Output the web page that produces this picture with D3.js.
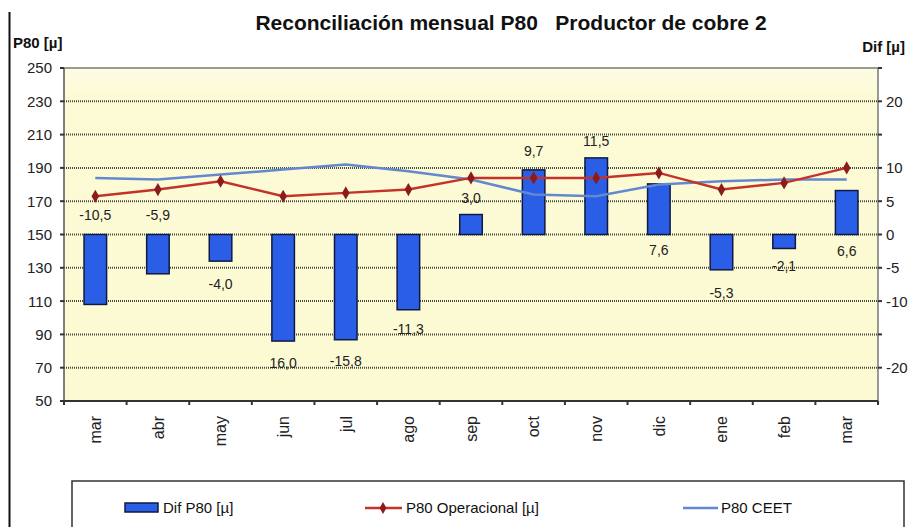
<!DOCTYPE html>
<html lang="es">
<head>
<meta charset="UTF-8">
<title>Reconciliación mensual P80</title>
<script src="https://d3js.org/d3.v7.min.js"></script>
<style>
    body { margin: 0; padding: 0; background: #fff; }
    svg { display: block; }
    .tick-label { font-family: "Liberation Sans", Arial, sans-serif; font-size: 15px; fill: #222; }
    .month { font-family: "Liberation Sans", Arial, sans-serif; font-size: 16px; fill: #222; }
    .dlabel { font-family: "Liberation Sans", Arial, sans-serif; font-size: 14px; fill: #222; }
    .title { font-family: "Liberation Sans", Arial, sans-serif; font-weight: bold; fill: #111; }
    .legend-text { font-family: "Liberation Sans", Arial, sans-serif; font-size: 15px; fill: #111; }
    .grid { stroke: #4a4a40; stroke-width: 2; stroke-dasharray: 1 1; }
</style>
</head>
<body>
<div id="chart"></div>
<script>
// data
const months = ["mar", "abr", "may", "jun", "jul", "ago", "sep", "oct", "nov", "dic", "ene", "feb", "mar"];
const difP80 = [-10.5, -5.9, -4.0, -16.0, -15.8, -11.3, 3.0, 9.7, 11.5, 7.6, -5.3, -2.1, 6.6];
const difLabels = ["-10,5", "-5,9", "-4,0", "16,0", "-15,8", "-11,3", "3,0", "9,7", "11,5", "7,6", "-5,3", "-2,1", "6,6"];
// where each label sits, in P80 units (labels were placed by hand in the original)
const difLabelAt = [162, 162, 120, 73, 74, 93, 172, 200, 206, 141, 115, 131, 140];
const p80Operacional = [173, 177, 182, 173, 175, 177, 184, 184, 184, 187, 177, 181, 190];
const p80CEET = [184, 183, 186, 189, 192, 188, 183, 174, 173, 180, 182, 183, 183];
const leftTicks = [250, 230, 210, 190, 170, 150, 130, 110, 90, 70, 50];
const rightTicks = [20, 10, 5, 0, -5, -10, -20];

const W = 915, H = 527;
const plot = { left: 64, right: 878, top: 68, bottom: 401 };

const svg = d3.select("#chart").append("svg")
    .attr("width", W)
    .attr("height", H);

const x = d3.scaleBand()
    .domain(d3.range(months.length))
    .range([plot.left, plot.right])
    .paddingInner(0.64)
    .paddingOuter(0.32);

const xEdge = d3.scaleLinear().domain([0, months.length]).range([plot.left, plot.right]);
const y = d3.scaleLinear().domain([50, 250]).range([plot.bottom, plot.top]);
const yDif = d3.scaleLinear().domain([-25, 25]).range([plot.bottom, plot.top]);

// outer border on the left
svg.append("line")
    .attr("x1", 9.5).attr("x2", 9.5)
    .attr("y1", 12).attr("y2", H)
    .attr("stroke", "#111").attr("stroke-width", 2);

// plot background
const bg = svg.append("defs").append("linearGradient")
    .attr("id", "bg").attr("x1", 0).attr("x2", 0).attr("y1", 0).attr("y2", 1);
bg.append("stop").attr("offset", "0%").attr("stop-color", "#fdfce6");
bg.append("stop").attr("offset", "8%").attr("stop-color", "#fdfbd6");
bg.append("stop").attr("offset", "100%").attr("stop-color", "#fcfad2");

svg.append("rect")
    .attr("x", plot.left).attr("y", plot.top)
    .attr("width", plot.right - plot.left)
    .attr("height", plot.bottom - plot.top)
    .attr("fill", "url(#bg)");

// gridlines
svg.selectAll(".grid")
    .data(leftTicks.filter(d => d !== 50 && d !== 250))
    .enter().append("line")
    .attr("class", "grid")
    .attr("x1", plot.left).attr("x2", plot.right)
    .attr("y1", d => y(d)).attr("y2", d => y(d));

svg.append("line")
    .attr("x1", plot.left).attr("x2", plot.right)
    .attr("y1", y(250)).attr("y2", y(250))
    .attr("stroke", "#7a7a6a").attr("stroke-width", 1.5);

// axes lines
svg.append("line")
    .attr("x1", plot.left).attr("x2", plot.left)
    .attr("y1", plot.top).attr("y2", plot.bottom)
    .attr("stroke", "#555").attr("stroke-width", 1.5);
svg.append("line")
    .attr("x1", plot.right).attr("x2", plot.right)
    .attr("y1", plot.top).attr("y2", plot.bottom)
    .attr("stroke", "#777").attr("stroke-width", 1.5);
svg.append("line")
    .attr("x1", plot.left).attr("x2", plot.right)
    .attr("y1", plot.bottom).attr("y2", plot.bottom)
    .attr("stroke", "#333").attr("stroke-width", 2);

// left ticks
const lt = svg.selectAll(".lt").data(leftTicks).enter().append("g");
lt.append("line")
    .attr("x1", plot.left - 4).attr("x2", plot.left)
    .attr("y1", d => y(d)).attr("y2", d => y(d))
    .attr("stroke", "#333").attr("stroke-width", 2);
lt.append("text")
    .attr("class", "tick-label")
    .attr("x", 52).attr("y", d => y(d))
    .attr("dy", "0.36em")
    .attr("text-anchor", "end")
    .text(d => d);

// right ticks
svg.selectAll(".rtk").data(leftTicks.filter(d => d !== 50)).enter().append("line")
    .attr("x1", plot.right).attr("x2", plot.right + 4)
    .attr("y1", d => y(d)).attr("y2", d => y(d))
    .attr("stroke", "#333").attr("stroke-width", 2);
svg.selectAll(".rt").data(rightTicks).enter().append("text")
    .attr("class", "tick-label")
    .attr("x", plot.right + 8).attr("y", d => yDif(d))
    .attr("dy", "0.36em")
    .text(d => d);

// x ticks and month labels
svg.selectAll(".xt").data(d3.range(months.length + 1)).enter().append("line")
    .attr("x1", d => xEdge(d)).attr("x2", d => xEdge(d))
    .attr("y1", plot.bottom).attr("y2", plot.bottom + 4)
    .attr("stroke", "#333").attr("stroke-width", 2);

svg.selectAll(".month").data(months).enter().append("text")
    .attr("class", "month")
    .attr("transform", (d, i) => `translate(${x(i) + x.bandwidth() / 2},416) rotate(-90)`)
    .attr("dy", "0.36em")
    .attr("text-anchor", "end")
    .text(d => d);

// bars
svg.selectAll(".bar").data(difP80).enter().append("rect")
    .attr("x", (d, i) => x(i))
    .attr("width", x.bandwidth())
    .attr("y", d => yDif(Math.max(0, d)))
    .attr("height", d => Math.abs(yDif(d) - yDif(0)))
    .attr("fill", "#2b5ee6")
    .attr("stroke", "#101a40")
    .attr("stroke-width", 1.5);

// lines
const line = d3.line().x((d, i) => x(i) + x.bandwidth() / 2).y(d => y(d));

svg.append("path")
    .datum(p80CEET)
    .attr("d", line)
    .attr("fill", "none")
    .attr("stroke", "#6288d0")
    .attr("stroke-width", 2.5);

svg.append("path")
    .datum(p80Operacional)
    .attr("d", line)
    .attr("fill", "none")
    .attr("stroke", "#c4332a")
    .attr("stroke-width", 2.5);

svg.selectAll(".mk").data(p80Operacional).enter().append("path")
    .attr("d", d3.symbol(d3.symbolDiamond, 50))
    .attr("transform", (d, i) => `translate(${x(i) + x.bandwidth() / 2},${y(d)})`)
    .attr("fill", "#8c1c1c");

// data labels
svg.selectAll(".dlabel").data(difLabels).enter().append("text")
    .attr("class", "dlabel")
    .attr("x", (d, i) => x(i) + x.bandwidth() / 2)
    .attr("y", (d, i) => y(difLabelAt[i]))
    .attr("dy", "0.36em")
    .attr("text-anchor", "middle")
    .text(d => d);

// titles
svg.append("text")
    .attr("class", "title")
    .attr("x", 511).attr("y", 30)
    .attr("text-anchor", "middle")
    .style("font-size", "21px")
    .attr("xml:space", "preserve")
    .text("Reconciliación mensual P80   Productor de cobre 2");

svg.append("text")
    .attr("class", "title")
    .attr("x", 13).attr("y", 48)
    .style("font-size", "15px")
    .text("P80 [µ]");

svg.append("text")
    .attr("class", "title")
    .attr("x", 905).attr("y", 52)
    .attr("text-anchor", "end")
    .style("font-size", "15px")
    .text("Dif [µ]");

// legend
svg.append("rect")
    .attr("x", 72).attr("y", 481)
    .attr("width", 832).attr("height", 60)
    .attr("fill", "#fff")
    .attr("stroke", "#333")
    .attr("stroke-width", 1.5);

const lg = svg.append("g");
lg.append("rect")
    .attr("x", 125).attr("y", 503).attr("width", 33).attr("height", 9)
    .attr("fill", "#2b5ee6").attr("stroke", "#101a40").attr("stroke-width", 1.5);
lg.append("text").attr("class", "legend-text")
    .attr("x", 163).attr("y", 508).attr("dy", "0.36em").text("Dif P80 [µ]");

lg.append("line")
    .attr("x1", 365).attr("x2", 402).attr("y1", 508).attr("y2", 508)
    .attr("stroke", "#c4332a").attr("stroke-width", 2.5);
lg.append("path")
    .attr("d", d3.symbol(d3.symbolDiamond, 40))
    .attr("transform", "translate(383,508)")
    .attr("fill", "#8c1c1c");
lg.append("text").attr("class", "legend-text")
    .attr("x", 406).attr("y", 508).attr("dy", "0.36em").text("P80 Operacional [µ]");

lg.append("line")
    .attr("x1", 683).attr("x2", 718).attr("y1", 508).attr("y2", 508)
    .attr("stroke", "#6288d0").attr("stroke-width", 2.5);
lg.append("text").attr("class", "legend-text")
    .attr("x", 721).attr("y", 508).attr("dy", "0.36em").text("P80 CEET");
</script>
</body>
</html>
